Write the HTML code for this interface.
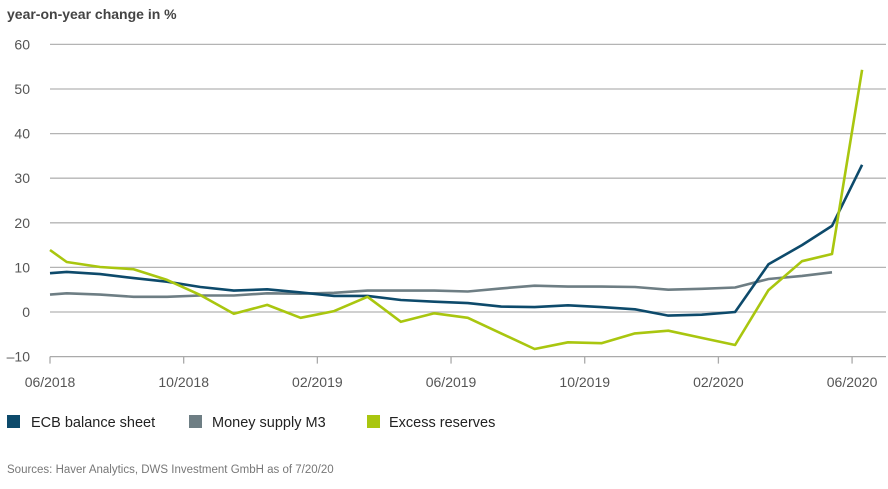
<!DOCTYPE html>
<html><head><meta charset="utf-8"><style>
body{margin:0;background:#fff;width:888px;height:484px;overflow:hidden;font-family:"Liberation Sans",sans-serif}
</style></head><body>
<svg id="chart" width="888" height="484" xmlns="http://www.w3.org/2000/svg">
<text x="7" y="19" font-size="14" fill="#444" font-weight="bold" font-family="Liberation Sans, sans-serif">year-on-year change in %</text>
<g id="grid"></g><g id="series"></g>
<g font-size="14.5" fill="#222" font-family="Liberation Sans, sans-serif">
<rect x="7" y="415" width="13" height="13" fill="#0d4a6b"/>
<text x="31" y="427">ECB balance sheet</text>
<rect x="189" y="415" width="13" height="13" fill="#6e7e84"/>
<text x="212" y="427">Money supply M3</text>
<rect x="367" y="415" width="13" height="13" fill="#a9c60f"/>
<text x="389" y="427">Excess reserves</text>
</g>
<text x="7" y="473" font-size="11.5" fill="#777" font-family="Liberation Sans, sans-serif">Sources: Haver Analytics, DWS Investment GmbH as of 7/20/20</text>
</svg>
<script>
const yTicks=[60,50,40,30,20,10,0,-10];
const xTickLabels=["06/2018","10/2018","02/2019","06/2019","10/2019","02/2020","06/2020"];
const xTickMonths=[0,4,8,12,16,20,24];
const months=[0,0.5,1.5,2.5,3.5,4.5,5.5,6.5,7.5,8.5,9.5,10.5,11.5,12.5,13.5,14.5,15.5,16.5,17.5,18.5,19.5,20.5,21.5,22.5,23.4,24.3];
const ecb=[8.7,9.0,8.5,7.6,6.8,5.6,4.8,5.1,4.4,3.6,3.6,2.7,2.3,2.0,1.2,1.1,1.5,1.1,0.6,-0.8,-0.6,0,10.7,15,19.3,33];
const m3=[3.9,4.2,3.9,3.4,3.4,3.7,3.7,4.2,4.1,4.3,4.8,4.8,4.8,4.6,5.3,5.9,5.7,5.7,5.6,5.0,5.2,5.5,7.4,8.1,8.9,null];
const reserves=[13.9,11.2,10.1,9.6,7.2,3.8,-0.4,1.6,-1.3,0.2,3.4,-2.2,-0.3,-1.3,-4.8,-8.3,-6.8,-7,-4.8,-4.2,-5.8,-7.4,4.9,11.4,13,54.3];
const X=m=>50+m*33.42, Y=v=>312-v*4.46;
const NS="http://www.w3.org/2000/svg";
const grid=document.getElementById('grid'), ser=document.getElementById('series');
function mk(tag,attrs,parent){const e=document.createElementNS(NS,tag);for(const k in attrs)e.setAttribute(k,attrs[k]);parent.appendChild(e);return e;}
yTicks.forEach(v=>{
  const l=mk('line',{x1:50,x2:886,y1:Y(v),y2:Y(v),stroke:v===-10?'#aaa':'#b4b4b4','stroke-width':1.3},grid);
  
  
  const t=mk('text',{x:30,y:Y(v)+5,'font-size':14,fill:'#555','text-anchor':'end'},grid);
  
  
  t.textContent=v<0?'\u2013'+Math.abs(v):v;
});
xTickMonths.forEach((m,i)=>{
  const l=mk('line',{x1:X(m),x2:X(m),y1:Y(-10),y2:Y(-10)+7,stroke:'#aaa','stroke-width':1.3},grid);
  
  
  const t=mk('text',{x:X(m),y:387,'font-size':14,fill:'#555','text-anchor':'middle'},grid);
  
  
  t.textContent=xTickLabels[i];
});
function line(vals,color,name){
  const pts=[];vals.forEach((v,i)=>{if(v!==null)pts.push(X(months[i]).toFixed(1)+','+Y(v).toFixed(1));});
  const p=mk('polyline',{points:pts.join(' '),fill:'none',stroke:color,'stroke-width':2.6,'stroke-linejoin':'round'},ser);
  
  
}
line(m3,'#6e7e84','m3-line');
line(ecb,'#0d4a6b','ecb-line');
line(reserves,'#a9c60f','reserves-line');
</script>
</body></html>
